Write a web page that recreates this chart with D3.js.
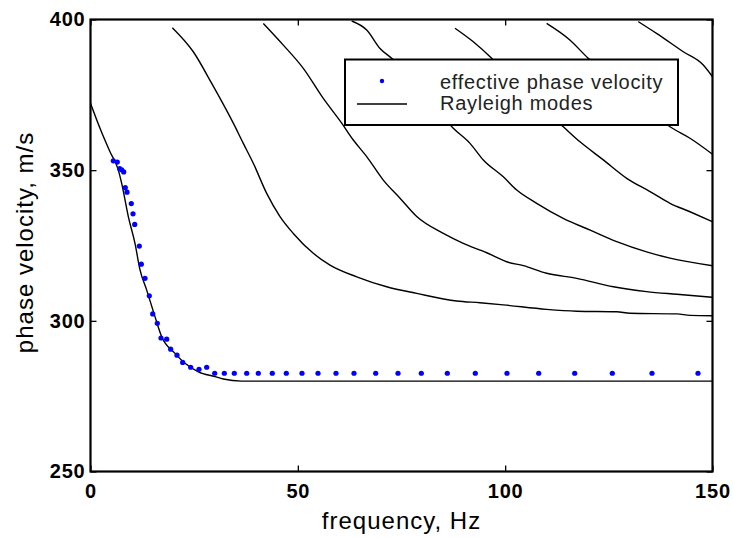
<!DOCTYPE html>
<html><head><meta charset="utf-8">
<script src="https://cdn.jsdelivr.net/npm/d3@7"></script>
<style>
html,body{margin:0;padding:0;background:#fff;}
svg{display:block;}
text{font-family:"Liberation Sans",Arial,Helvetica,sans-serif;}
</style></head>
<body>
<svg id="chart" width="733" height="538"></svg>
<script>
// ---- data ----
const xTicks = [0, 50, 100, 150];
const yTicks = [250, 300, 350, 400];

const effFreq = [5.5, 6.46, 7.04, 7.52, 8.01, 8.39, 8.8, 9.84, 10.25, 10.66, 11.77, 12.25, 13.14, 14.18, 15.0, 16.11, 17.0, 18.38, 19.34, 20.86, 22.23, 24.16, 26.17, 28.02, 29.95,
  32.27, 34.68, 37.67, 40.47, 43.84, 47.22, 51.0, 54.86, 59.2, 63.54, 68.78, 74.16, 79.78, 86.05, 92.8, 100.44, 108.09, 116.77, 125.84, 135.41, 146.5];
const effVel = [353.1, 352.7, 350.5, 350.1, 349.4, 344.2, 342.7, 338.9, 335.5, 332.0, 324.8, 318.8, 314.1, 308.3, 302.3, 299.2, 294.3, 293.9, 290.6, 288.6, 286.2, 284.6, 283.9, 284.6, 282.6,
  282.6, 282.6, 282.6, 282.6, 282.6, 282.6, 282.6, 282.6, 282.6, 282.6, 282.6, 282.6, 282.6, 282.6, 282.6, 282.6, 282.6, 282.6, 282.6, 282.6, 282.6];

const mode1Freq = [0, 2.29, 4.7, 6.7, 7.52, 9.12, 10.73, 11.94, 13.55, 15.55, 17.17, 20.38, 22.79, 26.0, 30.02, 32.03, 36.46, 150];
const mode1Vel  = [372.2, 363.9, 356.1, 350.1, 345.6, 334.6, 325.7, 316.9, 310.2, 301.4, 294.7, 289.2, 285.9, 283.1, 281.5, 280.7, 280.0, 280.0];

const mode2Freq = [19.73, 24.79, 29.23, 34.44, 36.85, 39.26, 42.49, 45.7, 48.91, 53.73, 57.76, 64.2, 71.43, 78.67, 88.31, 93.93, 99.55, 110.0, 117.25, 126.9, 130.1, 141.4, 144.6, 150];
const mode2Vel  = [397.3, 389.3, 378.8, 365.6, 358.9, 352.3, 342.3, 334.6, 329.0, 322.4, 318.5, 314.6, 311.3, 309.1, 306.6, 306.0, 305.3, 303.8, 303.2, 303.0, 302.5, 302.3, 301.8, 301.7];

const mode3Freq = [41.67, 46.5, 51.32, 56.14, 60.58, 63.38, 66.61, 70.61, 74.64, 78.67, 85.08, 89.9, 95.55, 100.37, 104.4, 110.0, 117.25, 126.1, 134.1, 141.4, 150];
const mode3Vel  = [398.7, 391.5, 383.8, 373.8, 365.6, 360.0, 354.5, 346.7, 340.7, 334.6, 329.0, 325.7, 322.6, 319.6, 318.3, 315.8, 314.1, 311.3, 309.7, 308.8, 307.8];

const mode4Freq = [62.99, 66.61, 69.82, 72.64, 77.05, 81.87, 87.49, 91.52, 94.73, 99.55, 102.8, 107.6, 114.0, 120.5, 126.9, 134.1, 139.75, 150];
const mode4Vel  = [399.5, 396.5, 390.4, 387.1, 380.6, 373.0, 363.9, 358.9, 353.4, 347.8, 343.4, 339.0, 334.0, 330.1, 326.3, 322.9, 320.8, 318.3];

const mode5Freq = [87.9, 92.31, 96.75, 101.17, 105.99, 110.33, 114.02, 118.05, 123.67, 129.31, 134.93, 139.75, 144.57, 150];
const mode5Vel  = [397.1, 392.6, 387.1, 380.6, 374.6, 369.0, 364.4, 359.4, 353.4, 347.3, 342.9, 339.0, 336.2, 332.9];

const mode6Freq = [110.0, 115.6, 120.05, 126.49, 133.0, 139.75, 144.57, 150];
const mode6Vel  = [398.7, 393.2, 387.1, 379.9, 372.3, 364.4, 360.6, 355.3];

const mode7Freq = [132.1, 136.5, 142.96, 147.78, 150];
const mode7Vel  = [399.3, 395.4, 389.3, 384.9, 381.0];

const modeFreqs = [mode1Freq, mode2Freq, mode3Freq, mode4Freq, mode5Freq, mode6Freq, mode7Freq];
const modeVels  = [mode1Vel, mode2Vel, mode3Vel, mode4Vel, mode5Vel, mode6Vel, mode7Vel];

const legendLabels = ["effective phase velocity", "Rayleigh modes"];

// ---- layout ----
const L = 90.5, R = 712.5, T = 19.5, B = 471.5;
const svg = d3.select("#chart");
const x = d3.scaleLinear().domain([0, 150]).range([L, R]);
const y = d3.scaleLinear().domain([250, 400]).range([B, T]);

svg.append("defs").append("clipPath").attr("id", "clip")
  .append("rect").attr("x", L).attr("y", T).attr("width", R - L).attr("height", B - T);

const plot = svg.append("g").attr("clip-path", "url(#clip)");

const line = d3.line().x(d => x(d[0])).y(d => y(d[1])).curve(d3.curveMonotoneX);
modeFreqs.forEach((fs, i) => {
  const pts = fs.map((f, j) => [f, modeVels[i][j]]);
  plot.append("path").attr("d", line(pts))
    .attr("fill", "none").attr("stroke", "#000").attr("stroke-width", 1.4);
});

plot.selectAll("circle.eff").data(effFreq.map((f, j) => [f, effVel[j]]))
  .enter().append("circle").attr("class", "eff")
  .attr("cx", d => x(d[0])).attr("cy", d => y(d[1])).attr("r", 2.6)
  .attr("fill", "#0000ff");

// axes (ticks inside)
const tickFont = g => g.selectAll("text")
  .style("font-size", "20px").style("font-weight", "bold").style("letter-spacing", "0.8px").attr("fill", "#000");
const gx = svg.append("g").attr("transform", `translate(0,${B})`)
  .call(d3.axisBottom(x).tickValues(xTicks).tickSizeInner(-6).tickSizeOuter(0).tickPadding(12).tickFormat(d3.format("d")));
const gy = svg.append("g").attr("transform", `translate(${L},0)`)
  .call(d3.axisLeft(y).tickValues(yTicks).tickSizeInner(-6).tickSizeOuter(0).tickPadding(5).tickFormat(d3.format("d")));
const gt = svg.append("g").attr("transform", `translate(0,${T})`)
  .call(d3.axisTop(x).tickValues(xTicks).tickSizeInner(-6).tickSizeOuter(0).tickFormat(""));
const gr = svg.append("g").attr("transform", `translate(${R},0)`)
  .call(d3.axisRight(y).tickValues(yTicks).tickSizeInner(-6).tickSizeOuter(0).tickFormat(""));
[gx, gy, gt, gr].forEach(g => {
  g.select(".domain").remove();
  g.selectAll("line").attr("stroke", "#000").attr("stroke-width", 1.3);
  g.call(tickFont);
});
gx.selectAll("text").attr("dy", "0.71em");

svg.append("rect").attr("x", L).attr("y", T).attr("width", R - L).attr("height", B - T)
  .attr("fill", "none").attr("stroke", "#000").attr("stroke-width", 2.2);

// axis labels
svg.append("text").attr("x", (L + R) / 2).attr("y", 529).attr("text-anchor", "middle")
  .style("font-size", "24px").style("letter-spacing", "1px").text("frequency, Hz");
svg.append("text").attr("transform", `translate(33,${(T + B) / 2 - 3}) rotate(-90)`)
  .attr("text-anchor", "middle").style("font-size", "24px").style("letter-spacing", "1px").text("phase velocity, m/s");

// legend
const lg = svg.append("g");
lg.append("rect").attr("x", 345).attr("y", 59.5).attr("width", 333).attr("height", 65.5)
  .attr("fill", "#fff").attr("stroke", "#000").attr("stroke-width", 2);
lg.append("circle").attr("cx", 382).attr("cy", 81).attr("r", 2.2).attr("fill", "#0000ff");
lg.append("line").attr("x1", 357).attr("x2", 407).attr("y1", 104).attr("y2", 104)
  .attr("stroke", "#000").attr("stroke-width", 1.4);
lg.selectAll("text.lab").data(legendLabels).enter().append("text").attr("class", "lab")
  .attr("x", 440).attr("y", (d, i) => 89 + i * 21)
  .style("font-size", "20px").style("letter-spacing", "0.7px").attr("fill", "#222").text(d => d);
</script>
</body></html>
